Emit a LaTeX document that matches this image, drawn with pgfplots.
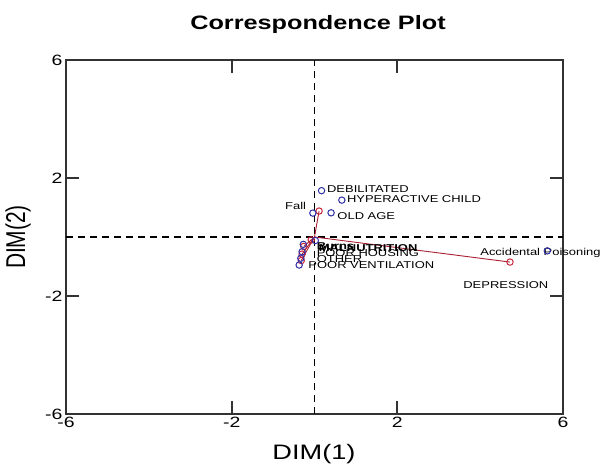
\documentclass[border=0pt]{standalone}
\usepackage{pgfplots}
\usepackage{pgfplotstable}
\usepackage{graphicx}
\usepackage{fontspec}
\setmainfont{Liberation Sans}
\pgfplotsset{compat=1.18}
\newcommand\sx[1]{\scalebox{1.3}[1]{#1}}
\definecolor{rowblue}{RGB}{45,45,165}
\definecolor{colred}{RGB}{200,40,60}
\definecolor{linered}{RGB}{170,30,50}
\definecolor{axgray}{RGB}{50,50,50}

\pgfplotstableread{
x y
0.17 1.57
0.66 1.25
-0.04 0.81
0.40 0.82
5.62 -0.47
-0.37 -0.95
-0.27 -0.25
-0.30 -0.50
-0.33 -0.72
0.02 -0.12
}\rowpts

\pgfplotstableread{
x y
0.11 0.88
4.72 -0.85
-0.26 -0.32
-0.30 -0.58
-0.32 -0.80
-0.08 -0.10
}\colpts

\begin{document}
\begin{tikzpicture}
\path[use as bounding box] (-66bp,-57bp) rectangle (536bp,414bp);
\begin{axis}[
  at={(0,0)}, anchor=south west,
  scale only axis, width=497bp, height=354bp,
  xmin=-6, xmax=6, ymin=-6, ymax=6,
  xtick={-6,-2,2,6}, ytick={-6,-2,2,6},
  xticklabels={\sx{-6},\sx{-2},\sx{2},\sx{6}},
  yticklabels={\sx{-6},\sx{-2},\sx{2},\sx{6}},
  tick label style={font=\fontsize{15}{17}\selectfont},
  major tick length=0pt,
  axis line style={draw=axgray, line width=1.2pt},
  clip=false,
]
\addplot[black, line width=1.1pt, dash pattern=on 7bp off 5bp] coordinates {(-6,0) (6,0)};
\addplot[black, line width=1.1pt, dash pattern=on 7bp off 5bp] coordinates {(0,-6) (0,6)};
% lines from origin to column points
\addplot[linered, line width=0.9pt] coordinates {(0,0) (4.72,-0.85)};
\addplot[linered, line width=0.9pt] coordinates {(0,0) (0.11,0.88)};
\addplot[linered, line width=0.9pt] coordinates {(0,0) (-0.26,-0.32)};
\addplot[linered, line width=0.9pt] coordinates {(0,0) (-0.30,-0.58)};
\addplot[linered, line width=0.9pt] coordinates {(0,0) (-0.32,-0.80)};
\addplot[only marks, mark=o, mark size=3.2bp, colred, mark options={line width=1pt}] table[x=x,y=y] {\colpts};
\addplot[only marks, mark=o, mark size=3.2bp, rowblue, mark options={line width=1pt}] table[x=x,y=y] {\rowpts};

\begin{scope}[every node/.style={font=\fontsize{10}{12}\selectfont, inner sep=0pt}]
\node[anchor=west] at (axis cs:0.30,1.62) {\sx{DEBILITATED}};
\node[anchor=west] at (axis cs:0.78,1.27) {\sx{HYPERACTIVE CHILD}};
\node[anchor=base east] at (axis cs:-0.20,0.92) {\sx{Fall}};
\node[anchor=west] at (axis cs:0.55,0.72) {\sx{OLD AGE}};
\node[anchor=base west] at (axis cs:4.0,-0.64) {\sx{Accidental Poisoning}};
\node[anchor=east] at (axis cs:5.65,-1.63) {\sx{DEPRESSION}};
\node[anchor=west] at (axis cs:-0.15,-0.95) {\sx{POOR VENTILATION}};
\node[anchor=west] at (axis cs:0.05,-0.54) {\sx{POOR HOUSING}};
\node[anchor=west] at (axis cs:0.05,-0.75) {\sx{OTHER}};
\node[anchor=west] at (axis cs:0.05,-0.31) {\sx{\bfseries Burns}};
\node[anchor=west] at (axis cs:0.10,-0.36) {\sx{\bfseries MALNUTRITION}};
\end{scope}
\end{axis}
% tick marks at -2 and 2 on all four sides (axis is 497bp x 354bp at origin)
\draw[draw=axgray, line width=2pt]
  (165.67bp,0bp) -- (165.67bp,13bp)
  (331.33bp,0bp) -- (331.33bp,13bp)
  (165.67bp,354bp) -- (165.67bp,341bp)
  (331.33bp,354bp) -- (331.33bp,341bp)
  (0bp,118bp) -- (13bp,118bp)
  (0bp,236bp) -- (13bp,236bp)
  (497bp,118bp) -- (484bp,118bp)
  (497bp,236bp) -- (484bp,236bp);
\node[font=\bfseries\fontsize{19.5}{22}\selectfont] at (252bp,390bp) {\sx{Correspondence Plot}};
\node[font=\fontsize{21}{24}\selectfont] at (248bp,-40bp) {\sx{DIM(1)}};
\node[font=\fontsize{21}{24}\selectfont, rotate=90] at (-48bp,177bp) {\scalebox{1}[1.3]{DIM(2)}};
\end{tikzpicture}
\end{document}
